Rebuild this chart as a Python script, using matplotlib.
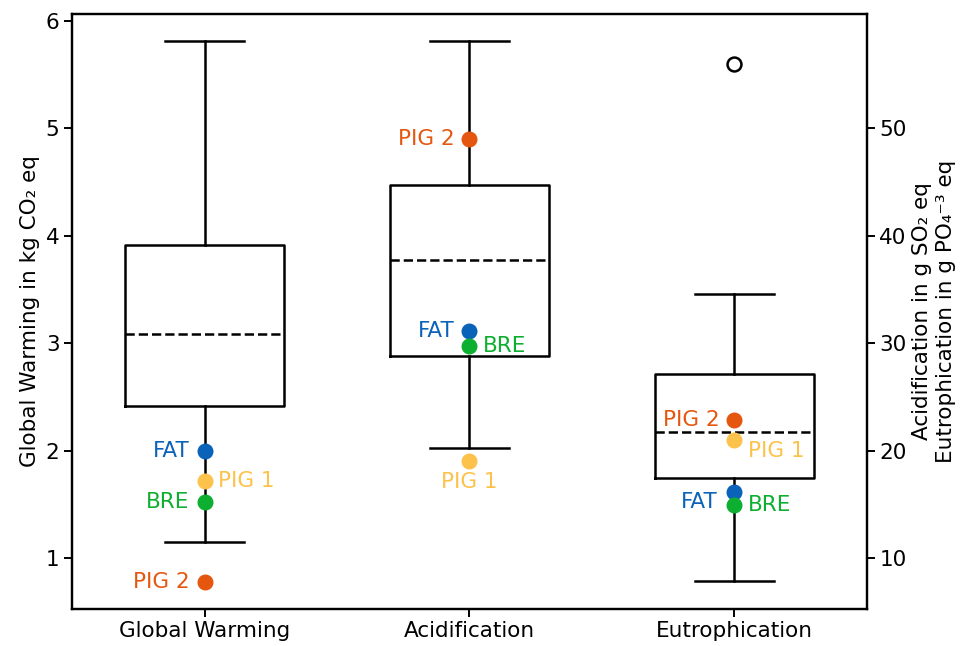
import numpy as np
import matplotlib
matplotlib.use("Agg")
import matplotlib.pyplot as plt

plt.rcParams['font.family'] = ['DejaVu Sans']
plt.rcParams['font.size'] = 15.5

categories = ["Global Warming", "Acidification", "Eutrophication"]

# box statistics: whisker low, q1, mean, q3, whisker high
whislo = [1.15, 20.2, 7.9]
q1 = [2.41, 28.8, 17.4]
mean = [3.08, 37.7, 21.75]
q3 = [3.91, 44.7, 27.1]
whishi = [5.81, 58.1, 34.6]
fliers = [[], [], [56.0]]

# single products
products = ["FAT", "PIG 1", "BRE", "PIG 2"]
prod_colors = ["#0A63B9", "#FCC24B", "#0DAF30", "#E5560F"]
prod_values = {
    "FAT":   [2.00, 31.1, 16.1],
    "PIG 1": [1.72, 19.05, 21.0],
    "BRE":   [1.52, 29.7, 14.9],
    "PIG 2": [0.78, 49.0, 22.8],
}

# label placement per product and category: (dx, dy) in points, ha, va
label_pos = {
    "FAT":   [(-11, 0, 'right', 'center'), (-11, 0, 'right', 'center'), (-12, -7, 'right', 'center')],
    "PIG 1": [(10, 0, 'left', 'center'), (0, -8, 'center', 'top'), (10, -8, 'left', 'center')],
    "BRE":   [(-11, 0, 'right', 'center'), (10, 0, 'left', 'center'), (10, 0, 'left', 'center')],
    "PIG 2": [(-11, 0, 'right', 'center'), (-11, 0, 'right', 'center'), (-11, 0, 'right', 'center')],
}

fig = plt.figure(figsize=(9.67, 6.46), dpi=100)
ax = fig.add_axes([0.0745, 0.058, 0.822, 0.92])
ax2 = ax.twinx()

stats = []
for i in range(3):
    stats.append(dict(whislo=whislo[i], q1=q1[i], med=mean[i], mean=mean[i],
                      q3=q3[i], whishi=whishi[i], fliers=fliers[i]))

lw = 1.8
props = dict(
    widths=0.6, showmeans=True, meanline=True,
    boxprops=dict(color='black', linewidth=lw),
    whiskerprops=dict(color='black', linewidth=lw),
    capprops=dict(color='black', linewidth=lw),
    medianprops=dict(visible=False),
    meanprops=dict(color='black', linestyle='--', linewidth=lw),
    flierprops=dict(marker='o', markerfacecolor='none', markeredgecolor='black',
                    markersize=10, markeredgewidth=1.8),
)
ax.bxp(stats[:1], positions=[1], **props)
ax2.bxp(stats[1:], positions=[2, 3], **props)

# products: first category on the left axis, the rest on the right one
for name, col in zip(products, prod_colors):
    vals = prod_values[name]
    for i in range(3):
        target = ax if i == 0 else ax2
        target.plot(i + 1, vals[i], 'o', color=col, markersize=10.5, zorder=5)
        dx, dy, ha, va = label_pos[name][i]
        target.annotate(name, (i + 1, vals[i]), xytext=(dx, dy), textcoords='offset points',
                        ha=ha, va=va, color=col, zorder=6)

ax.set_xlim(0.5, 3.5)
ax.set_ylim(0.53, 6.06)
ax2.set_ylim(5.3, 60.6)
ax.set_xticks([1, 2, 3])
ax.set_xticklabels(categories)
ax.set_yticks([1, 2, 3, 4, 5, 6])
ax2.set_yticks([10, 20, 30, 40, 50])

ax.set_ylabel("Global Warming in kg CO₂ eq")
ax2.set_ylabel("Acidification in g SO₂ eq\nEutrophication in g PO₄⁻³ eq")

for a in (ax, ax2):
    for s in a.spines.values():
        s.set_linewidth(1.6)
    a.tick_params(length=5.5, width=1.4)

fig.savefig("out.png", dpi=100)
